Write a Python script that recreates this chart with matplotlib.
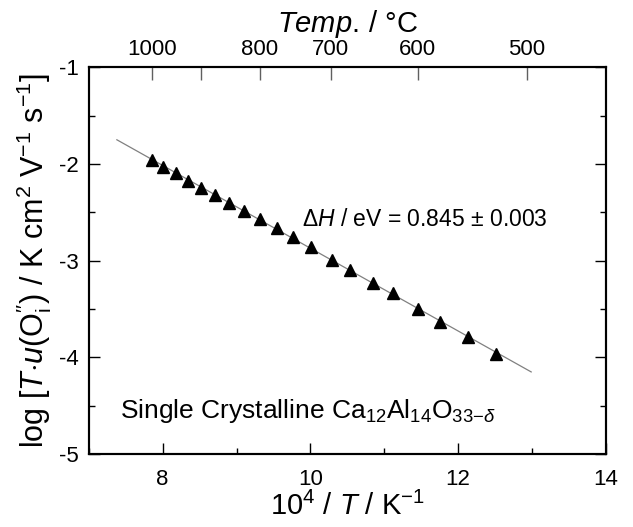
import numpy as np
import matplotlib
matplotlib.use("Agg")
import matplotlib.pyplot as plt
import matplotlib.transforms as mtransforms

plt.rcParams['font.family'] = ['Liberation Sans', 'DejaVu Sans']
plt.rcParams['mathtext.fontset'] = 'custom'
plt.rcParams['mathtext.rm'] = 'Liberation Sans'
plt.rcParams['mathtext.it'] = 'Liberation Sans:italic'
plt.rcParams['mathtext.bf'] = 'Liberation Sans:bold'
plt.rcParams['axes.unicode_minus'] = False

# data: 10^4/T (K^-1) and log[T*u]
inv_T = [7.851, 8.008, 8.180, 8.347, 8.518, 8.708, 8.901, 9.104, 9.317, 9.551,
         9.759, 10.007, 10.287, 10.535, 10.842, 11.121, 11.459, 11.762, 12.136, 12.510]
log_Tu = [-1.959, -2.028, -2.090, -2.173, -2.245, -2.321, -2.406, -2.483, -2.572, -2.665,
          -2.758, -2.861, -2.993, -3.096, -3.227, -3.337, -3.496, -3.631, -3.792, -3.965]
fit_range = [7.38, 12.99]
top_ticks_C = [1000, 900, 800, 700, 600, 500]
top_labels = ['1000', '', '800', '700', '600', '500']

fig = plt.figure(figsize=(6.33, 5.27), dpi=100)
ax = fig.add_axes([0.1403, 0.1385, 0.957 - 0.1403, 0.8723 - 0.1385])

coef = np.polyfit(inv_T, log_Tu, 1)
xf = np.array(fit_range)
ax.plot(xf, np.polyval(coef, xf), color='#808080', lw=0.9, zorder=1)
ax.plot(inv_T, log_Tu, ls='none', marker='^', ms=8.5, color='black', zorder=2)

ax.set_xlim(7, 14)
ax.set_ylim(-5, -1)
ax.set_xticks([8, 10, 12, 14])
ax.set_xticks([7, 9, 11, 13], minor=True)
ax.set_yticks([-5, -4, -3, -2, -1])
ax.set_yticks([-4.5, -3.5, -2.5, -1.5], minor=True)
ax.tick_params(which='both', direction='in', right=True, top=False, labelsize=16, width=1)
ax.tick_params(which='major', length=8)
ax.tick_params(axis='x', which='major', pad=11)
ax.tick_params(axis='y', which='major', pad=7)
ax.tick_params(which='minor', length=4)
for s in ax.spines.values():
    s.set_linewidth(1.5)

ax.set_xlabel(r'10$^4$ / $T$ / K$^{\mathregular{-1}}$', fontsize=21, labelpad=1)
ax.set_ylabel(r'log [$T$$\cdot$$u$(O$_\mathregular{i}^{\prime\prime}$) / K cm$^2$ V$^{-1}$ s$^{-1}$]',
              fontsize=22, labelpad=4)

top = ax.twiny()
top.set_xlim(ax.get_xlim())
top.set_xticks([1e4 / (c + 273.15) for c in top_ticks_C])
top.set_xticklabels(top_labels)
top.tick_params(direction='in', length=9, width=1, color='#606060', labelsize=16, pad=5)
for s in top.spines.values():
    s.set_linewidth(1.5)
top.set_xlabel(r'$\mathit{Temp.}\,/\ \degree\mathrm{C}$', fontsize=21, labelpad=5)

dh = ax.text(302, 527 - 220, r'$\Delta H$ / eV = 0.845 $\pm$ 0.003', fontsize=16.5,
             va='center', ha='left', transform=mtransforms.IdentityTransform())
ax.text(0.06, 0.11, r'Single Crystalline Ca$_{12}$Al$_{14}$O$_{33\mathregular{-}\delta}$',
        transform=ax.transAxes, fontsize=19, va='center', ha='left')

fig.savefig('out.png', dpi=100)
